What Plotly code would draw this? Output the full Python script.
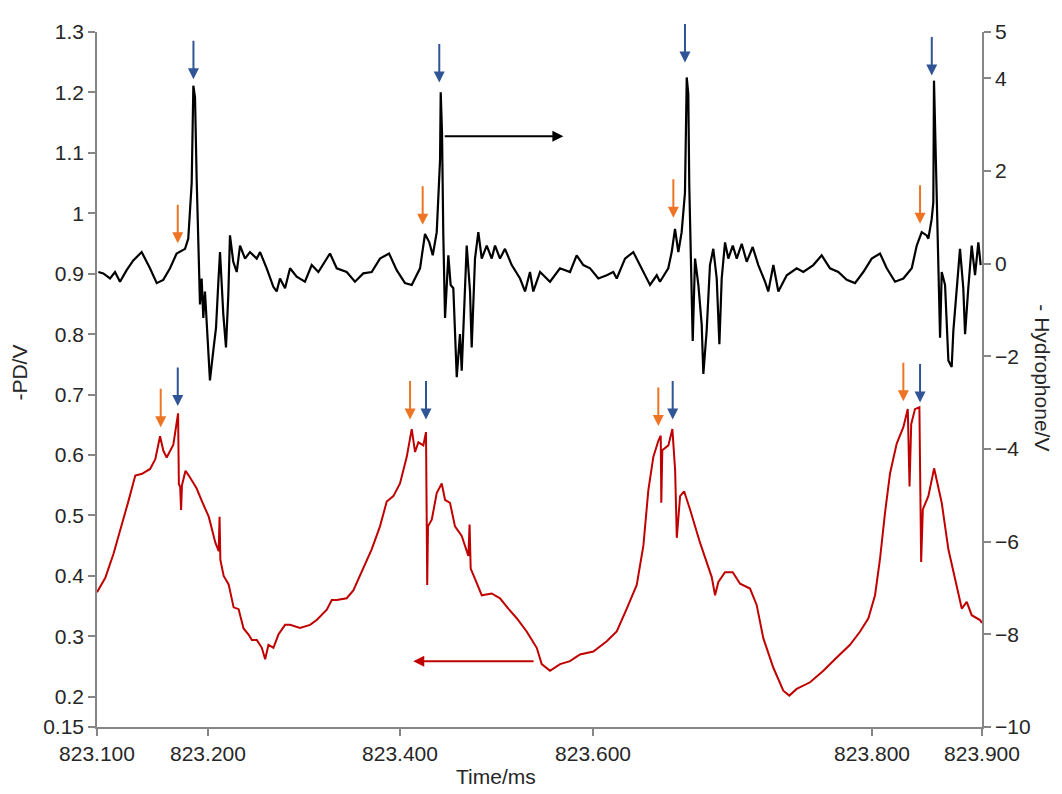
import plotly.graph_objects as go

# ---------------- data ----------------
# Hydrophone signal (plotted negated, right axis) : time in ms, value in V
hyd_t = [823.1012, 823.1057, 823.1118, 823.1163, 823.1208, 823.1268, 823.1328, 823.1404, 823.1479, 823.1540,
         823.1599, 823.1660, 823.1720, 823.1796, 823.1825, 823.1856, 823.1871, 823.1886, 823.1901, 823.1916,
         823.1931, 823.1946, 823.1961, 823.1976, 823.2006, 823.2021, 823.2051, 823.2076, 823.2097, 823.2112,
         823.2142, 823.2166, 823.2187, 823.2202, 823.2232, 823.2263, 823.2293, 823.2338, 823.2383, 823.2444,
         823.2474, 823.2534, 823.2594, 823.2624, 823.2654, 823.2700, 823.2745, 823.2805, 823.2880, 823.2941,
         823.3001, 823.3106, 823.3167, 823.3257, 823.3332, 823.3407, 823.3483, 823.3558, 823.3640, 823.3709,
         823.3784, 823.3845, 823.3920, 823.3965, 823.4004, 823.4035, 823.4071, 823.4085, 823.4101, 823.4107,
         823.4119, 823.4130, 823.4146, 823.4176, 823.4197, 823.4221, 823.4252, 823.4281, 823.4297, 823.4342,
         823.4372, 823.4387, 823.4417, 823.4447, 823.4478, 823.4523, 823.4568, 823.4598, 823.4643, 823.4688,
         823.4749, 823.4824, 823.4869, 823.4914, 823.4944, 823.5005, 823.5095, 823.5185, 823.5276, 823.5336,
         823.5396, 823.5457, 823.5532, 823.5608, 823.5667, 823.5698, 823.5773, 823.5848, 823.5924, 823.5999,
         823.6060, 823.6089, 823.6164, 823.6195, 823.6225, 823.6255, 823.6285, 823.6315, 823.6331, 823.6345,
         823.6354, 823.6367, 823.6385, 823.6406, 823.6436, 823.6466, 823.6481, 823.6511, 823.6541, 823.6571,
         823.6602, 823.6626, 823.6647, 823.6677, 823.6707, 823.6747, 823.6783, 823.6828, 823.6873, 823.6927,
         823.6978, 823.7039, 823.7068, 823.7114, 823.7159, 823.7235, 823.7325, 823.7385, 823.7475, 823.7551,
         823.7626, 823.7701, 823.7777, 823.7852, 823.7927, 823.8003, 823.8078, 823.8139, 823.8214, 823.8289,
         823.8365, 823.8410, 823.8455, 823.8500, 823.8515, 823.8545, 823.8560, 823.8566, 823.8582, 823.8591,
         823.8605, 823.8621, 823.8636, 823.8666, 823.8696, 823.8726, 823.8741, 823.8772, 823.8801, 823.8831,
         823.8847, 823.8876, 823.8907, 823.8937, 823.8967, 823.8988]
hyd_v = [-0.18, -0.21, -0.32, -0.18, -0.39, -0.14, 0.07, 0.25, -0.10, -0.42,
         -0.35, -0.10, 0.22, 0.32, 0.54, 1.74, 3.84, 3.59, 1.82, 0.32,
         -0.88, -0.32, -1.17, -0.60, -1.74, -2.52, -1.88, -1.38, -0.39, 0.25,
         -1.10, -1.81, -0.67, 0.61, 0.04, -0.18, 0.39, 0.11, 0.25, 0.11,
         0.25, -0.10, -0.50, -0.60, -0.32, -0.53, -0.10, -0.28, -0.39, -0.03,
         -0.18, 0.22, -0.10, -0.18, -0.39, -0.21, -0.18, 0.11, 0.22, -0.14,
         -0.42, -0.46, -0.10, 0.64, 0.46, 0.18, 0.68, 1.53, 2.24, 3.70,
         2.81, 0.68, -1.17, 0.18, -0.46, -0.53, -2.45, -1.52, -2.31, 0.39,
         -0.60, -1.81, 0.11, 0.68, 0.11, 0.39, 0.11, 0.39, 0.11, 0.32,
         -0.03, -0.32, -0.60, -0.18, -0.60, -0.18, -0.39, -0.10, -0.18, 0.18,
         -0.03, -0.10, -0.32, -0.25, -0.18, -0.32, 0.11, 0.25, -0.10, -0.46,
         -0.25, -0.39, -0.10, 0.25, 0.75, 0.25, 0.68, 1.53, 4.02, 3.66,
         1.67, 0.25, -1.67, 0.11, -0.46, -1.31, -2.38, -1.45, -0.03, 0.32,
         -0.32, -1.74, -0.32, 0.46, 0.11, 0.39, 0.11, 0.43, 0.04, 0.36,
         -0.03, -0.39, -0.60, -0.03, -0.60, -0.25, -0.10, -0.18, -0.03, 0.18,
         -0.10, -0.18, -0.35, -0.42, -0.18, 0.11, 0.22, -0.10, -0.39, -0.32,
         -0.10, 0.39, 0.68, 0.61, 0.54, 0.96, 1.32, 3.95, 2.38, 1.25,
         -0.53, -1.60, -0.18, -0.46, -2.09, -2.23, -1.45, -0.53, 0.32, -0.53,
         -1.52, -0.53, 0.39, -0.25, 0.46, -0.03]

# Photodiode signal (plotted negated, left axis)
pd_t = [823.1000, 823.1075, 823.1150, 823.1240, 823.1286, 823.1346, 823.1407, 823.1480, 823.1527, 823.1570,
        823.1600, 823.1630, 823.1690, 823.1733, 823.1740, 823.1752, 823.1760, 823.1768, 823.1800, 823.1830,
        823.1900, 823.1950, 823.2010, 823.2070, 823.2100, 823.2108, 823.2115, 823.2145, 823.2190, 823.2235,
        823.2280, 823.2325, 823.2370, 823.2400, 823.2445, 823.2490, 823.2520, 823.2550, 823.2595, 823.2640,
        823.2700, 823.2745, 823.2835, 823.2926, 823.2986, 823.3077, 823.3122, 823.3167, 823.3257, 823.3317,
        823.3393, 823.3483, 823.3558, 823.3619, 823.3679, 823.3739, 823.3800, 823.3830, 823.3845, 823.3875,
        823.3905, 823.3950, 823.3974, 823.3985, 823.3992, 823.4026, 823.4071, 823.4116, 823.4146, 823.4191,
        823.4236, 823.4297, 823.4357, 823.4368, 823.4378, 823.4417, 823.4478, 823.4568, 823.4643, 823.4718,
        823.4794, 823.4884, 823.4975, 823.5020, 823.5095, 823.5186, 823.5276, 823.5366, 823.5487, 823.5608,
        823.5698, 823.5789, 823.5879, 823.5939, 823.5984, 823.6029, 823.6075, 823.6096, 823.6101, 823.6110,
        823.6165, 823.6201, 823.6226, 823.6241, 823.6271, 823.6307, 823.6361, 823.6451, 823.6512, 823.6557,
        823.6587, 823.6617, 823.6677, 823.6747, 823.6813, 823.6903, 823.6963, 823.7023, 823.7114, 823.7204,
        823.7258, 823.7325, 823.7446, 823.7566, 823.7687, 823.7807, 823.7898, 823.7973, 823.8033, 823.8078,
        823.8123, 823.8169, 823.8229, 823.8289, 823.8329, 823.8345, 823.8360, 823.8394, 823.8434, 823.8442,
        823.8450, 823.8465, 823.8515, 823.8567, 823.8636, 823.8696, 823.8772, 823.8817, 823.8862, 823.8907,
        823.8982, 823.9000]
pd_v = [0.373, 0.397, 0.437, 0.493, 0.525, 0.566, 0.569, 0.577, 0.593, 0.631,
        0.607, 0.596, 0.617, 0.669, 0.552, 0.547, 0.509, 0.550, 0.574, 0.566,
        0.545, 0.523, 0.498, 0.455, 0.441, 0.498, 0.427, 0.400, 0.386, 0.348,
        0.345, 0.313, 0.303, 0.294, 0.294, 0.281, 0.262, 0.286, 0.281, 0.303,
        0.319, 0.319, 0.314, 0.319, 0.327, 0.344, 0.360, 0.360, 0.363, 0.376,
        0.406, 0.444, 0.482, 0.523, 0.532, 0.553, 0.597, 0.630, 0.643, 0.605,
        0.621, 0.616, 0.638, 0.385, 0.482, 0.493, 0.537, 0.553, 0.526, 0.521,
        0.482, 0.466, 0.433, 0.485, 0.412, 0.395, 0.368, 0.371, 0.363, 0.346,
        0.330, 0.308, 0.281, 0.254, 0.243, 0.254, 0.259, 0.270, 0.275, 0.292,
        0.308, 0.346, 0.385, 0.450, 0.542, 0.597, 0.624, 0.632, 0.521, 0.608,
        0.616, 0.643, 0.575, 0.463, 0.532, 0.540, 0.510, 0.455, 0.423, 0.398,
        0.368, 0.390, 0.406, 0.406, 0.387, 0.379, 0.352, 0.297, 0.248, 0.210,
        0.202, 0.213, 0.224, 0.243, 0.265, 0.286, 0.308, 0.330, 0.368, 0.428,
        0.504, 0.570, 0.619, 0.646, 0.676, 0.548, 0.651, 0.676, 0.679, 0.586,
        0.423, 0.510, 0.532, 0.578, 0.521, 0.444, 0.385, 0.346, 0.357, 0.335,
        0.327, 0.322]

# axis ticks
x_tick_pos = [823.1000, 823.2003, 823.3739, 823.5484, 823.8006, 823.9000]
x_tick_text = ["823.100", "823.200", "823.400", "823.600", "823.800", "823.900"]
pd_tick_vals = [0.15, 0.2, 0.3, 0.4, 0.5, 0.6, 0.7, 0.8, 0.9, 1.0, 1.1, 1.2, 1.3]
pd_tick_text = ["0.15", "0.2", "0.3", "0.4", "0.5", "0.6", "0.7", "0.8", "0.9", "1", "1.1", "1.2", "1.3"]
hyd_tick_vals = [-10, -8, -6, -4, -2, 0, 2, 4, 5]

# marker arrows (tips)
hyd_blue_t = [823.1872, 823.4094, 823.6315, 823.8546]
hyd_blue_v = [3.98, 3.91, 4.34, 4.06]
hyd_orange_t = [823.1730, 823.3944, 823.6210, 823.8440]
hyd_orange_v = [0.44, 0.84, 0.99, 0.86]
pd_blue_t = [823.1730, 823.3974, 823.6204, 823.8440]
pd_blue_v = [0.681, 0.659, 0.659, 0.687]
pd_orange_t = [823.1576, 823.3830, 823.6074, 823.8289]
pd_orange_v = [0.646, 0.659, 0.648, 0.689]

# axis-indicating arrows (tail -> head)
hyd_axis_arrow = dict(t0=823.4130, t1=823.5216, v=2.75)
pd_axis_arrow = dict(t0=823.4960, t1=823.3859, v=0.259)

# ---------------- figure ----------------
BLACK = "#000000"
RED = "#C00000"
BLUE = "#2F5597"
ORANGE = "#EE7424"
AXIS = "#868686"
TXT = "#262626"
FONT = "Liberation Sans, Arial, sans-serif"
FS = 21

fig = go.Figure()
fig.add_trace(go.Scatter(x=pd_t, y=pd_v, mode="lines", line=dict(color=RED, width=2),
                         yaxis="y", showlegend=False))
fig.add_trace(go.Scatter(x=hyd_t, y=hyd_v, mode="lines", line=dict(color=BLACK, width=2.2),
                         yaxis="y2", showlegend=False))

ann = []
def varrow(x, y, yref, color):
    ann.append(dict(x=x, y=y, xref="x", yref=yref, text="", showarrow=True,
                    ax=0, ay=-40, arrowhead=2, arrowsize=1.1, arrowwidth=2,
                    arrowcolor=color, standoff=0))

for t, v in zip(hyd_blue_t, hyd_blue_v):
    varrow(t, v, "y2", BLUE)
for t, v in zip(hyd_orange_t, hyd_orange_v):
    varrow(t, v, "y2", ORANGE)
for t, v in zip(pd_blue_t, pd_blue_v):
    varrow(t, v, "y", BLUE)
for t, v in zip(pd_orange_t, pd_orange_v):
    varrow(t, v, "y", ORANGE)

ann.append(dict(x=hyd_axis_arrow["t1"], y=hyd_axis_arrow["v"], xref="x", yref="y2",
                ax=hyd_axis_arrow["t0"], ay=hyd_axis_arrow["v"], axref="x", ayref="y2",
                text="", showarrow=True, arrowhead=2, arrowsize=1.1, arrowwidth=2,
                arrowcolor=BLACK, standoff=0))
ann.append(dict(x=pd_axis_arrow["t1"], y=pd_axis_arrow["v"], xref="x", yref="y",
                ax=pd_axis_arrow["t0"], ay=pd_axis_arrow["v"], axref="x", ayref="y",
                text="", showarrow=True, arrowhead=2, arrowsize=1.1, arrowwidth=2,
                arrowcolor=RED, standoff=0))

# axis titles
ann.append(dict(text="-PD/V", xref="paper", yref="paper", x=-0.087, y=0.51,
                xanchor="center", yanchor="middle",
                showarrow=False, textangle=-90, font=dict(size=FS, color=TXT, family=FONT)))
ann.append(dict(text="- Hydrophone/V", xref="paper", yref="paper", x=1.069, y=0.503,
                xanchor="center", yanchor="middle",
                showarrow=False, textangle=90, font=dict(size=FS, color=TXT, family=FONT)))
ann.append(dict(text="Time/ms", xref="paper", yref="paper", x=0.451, y=-0.071,
                xanchor="center", yanchor="middle",
                showarrow=False, font=dict(size=FS, color=TXT, family=FONT)))

# the page shows the figure with an 8px body margin, so the figure is 8px smaller
fig.update_layout(
    width=1054, height=786,
    margin=dict(l=89, r=80, t=15, b=67),
    paper_bgcolor="white", plot_bgcolor="white",
    font=dict(family=FONT, color=TXT, size=FS),
    annotations=ann,
    xaxis=dict(range=[823.1, 823.9], tickvals=x_tick_pos, ticktext=x_tick_text,
               showgrid=False, zeroline=False, showline=True, linecolor=AXIS, linewidth=1.5,
               ticks="outside", ticklen=7, tickwidth=1.5, tickcolor=AXIS,
               tickfont=dict(size=FS, color=TXT)),
    yaxis=dict(range=[0.15, 1.3], tickvals=pd_tick_vals, ticktext=pd_tick_text,
               showgrid=False, zeroline=False, showline=True, linecolor=AXIS, linewidth=1.5,
               ticks="outside", ticklen=7, tickwidth=1.5, tickcolor=AXIS,
               tickfont=dict(size=FS, color=TXT)),
    yaxis2=dict(range=[-10, 5], tickvals=hyd_tick_vals, overlaying="y", side="right",
                showgrid=False, zeroline=False, showline=True, linecolor=AXIS, linewidth=1.5,
                ticks="outside", ticklen=7, tickwidth=1.5, tickcolor=AXIS,
                tickfont=dict(size=FS, color=TXT)),
)

fig.write_html("out.html")
